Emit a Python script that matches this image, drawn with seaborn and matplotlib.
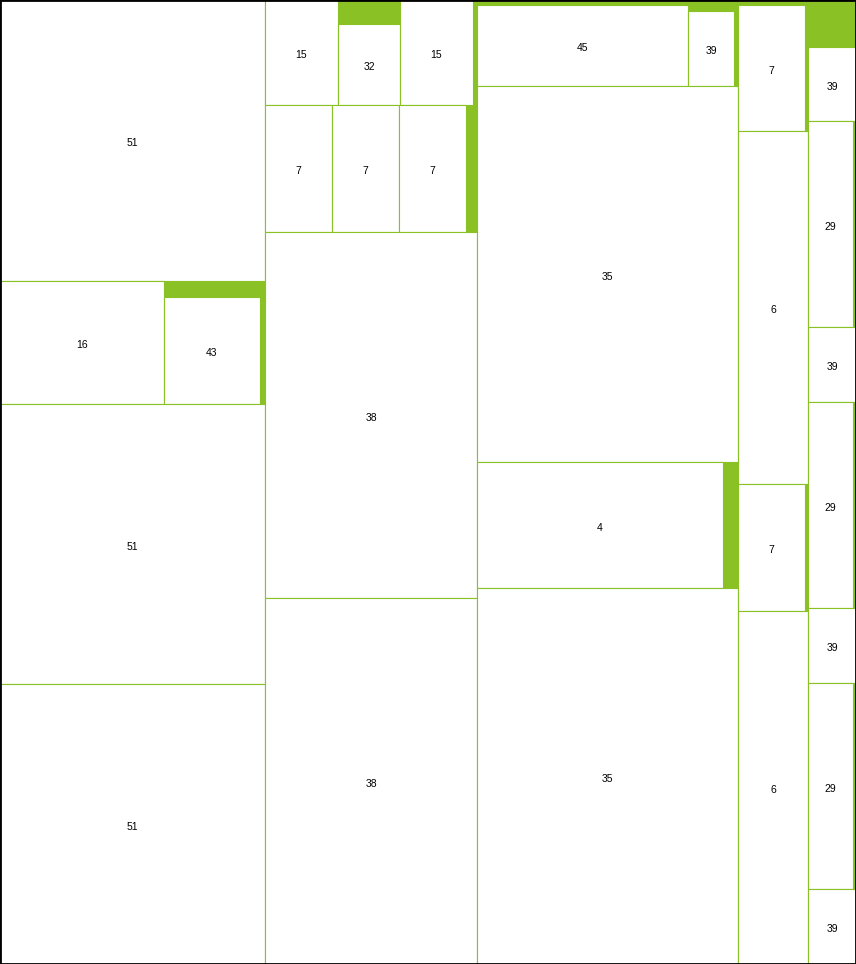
import matplotlib
matplotlib.use("Agg")
import matplotlib.pyplot as plt
from matplotlib.patches import Rectangle
from matplotlib.transforms import offset_copy
import seaborn as sns

GREEN = "#8ac226"

# Cell sizes are areas (hundreds of square pixels of the original canvas).
# A tuple is a labelled cell, a list is a group; groups split left-right and
# top-bottom in turn. A None label is unused room in its group (shows green).
column_1 = [("51", 744.7),
            [("16", 201.7), [(None, 16.2), [("43", 102.7), (None, 5.4)]]],
            ("51", 742.0),
            ("51", 742.0)]

column_2 = [[[[("15", 76.7), [(None, 14.9), ("32", 50.2)], ("15", 76.7)],
              [("7", 85.1), ("7", 85.1), ("7", 85.1), (None, 8.9)]],
             (None, 9.3)],
            ("38", 775.9),
            ("38", 775.9)]

column_3 = [[[(None, 10.6), ("45", 170.9)],
             [(None, 5.5), [("39", 34.5), (None, 3.0)]]],
            ("35", 981.4),
            [("4", 310.0), (None, 18.9)],
            ("35", 981.4)]

column_4 = [[[(None, 3.4), ("7", 84.4)], (None, 3.9)],
            ("6", 247.1),
            [("7", 85.1), (None, 3.8)],
            ("6", 247.1)]

column_5 = [(None, 22.6),
            ("39", 35.5),
            [("29", 92.7), (None, 6.2)],
            ("39", 36.0),
            [("29", 92.7), (None, 6.2)],
            ("39", 36.0),
            [("29", 92.7), (None, 6.2)],
            ("39", 36.0)]

columns = [column_1, column_2, column_3, column_4, column_5]


def size(node):
    if isinstance(node, tuple):
        return node[1]
    return sum(size(c) for c in node)


def draw(ax, node, x, y, w, h, depth=0):
    if isinstance(node, tuple):
        label = node[0]
        if label is not None:
            ax.add_patch(Rectangle((x, y), w, h, facecolor="white",
                                   edgecolor=GREEN, lw=0.8))
            ax.text(x + w / 2, y + h / 2, label, ha="center", va="center",
                    fontsize=7.5, color="black", transform=text_tr)
        return
    ax.add_patch(Rectangle((x, y), w, h, facecolor=GREEN, edgecolor="none"))
    total = size(node)
    pos = 0.0
    for child in node:
        frac = size(child) / total
        if depth % 2 == 0:
            draw(ax, child, x + pos * w, y, frac * w, h, depth + 1)
        else:
            draw(ax, child, x, y + pos * h, w, frac * h, depth + 1)
        pos += frac


sns.set_theme(style="white")
plt.rcParams["font.family"] = ["Liberation Sans", "DejaVu Sans"]

fig = plt.figure(figsize=(8.56, 9.64), dpi=100)
ax = fig.add_axes([0, 0, 1, 1])
ax.set_xlim(0, 1)
ax.set_ylim(1, 0)
# labels sit a touch below the true centre in the original
text_tr = offset_copy(ax.transData, fig=fig, x=0, y=-2.5, units="dots")
draw(ax, columns, 0, 0, 1, 1)
ax.set_xticks([])
ax.set_yticks([])
for s in ax.spines.values():
    s.set_visible(True)
    s.set_color("black")
    s.set_linewidth(2)

fig.savefig("out.png", dpi=100)
